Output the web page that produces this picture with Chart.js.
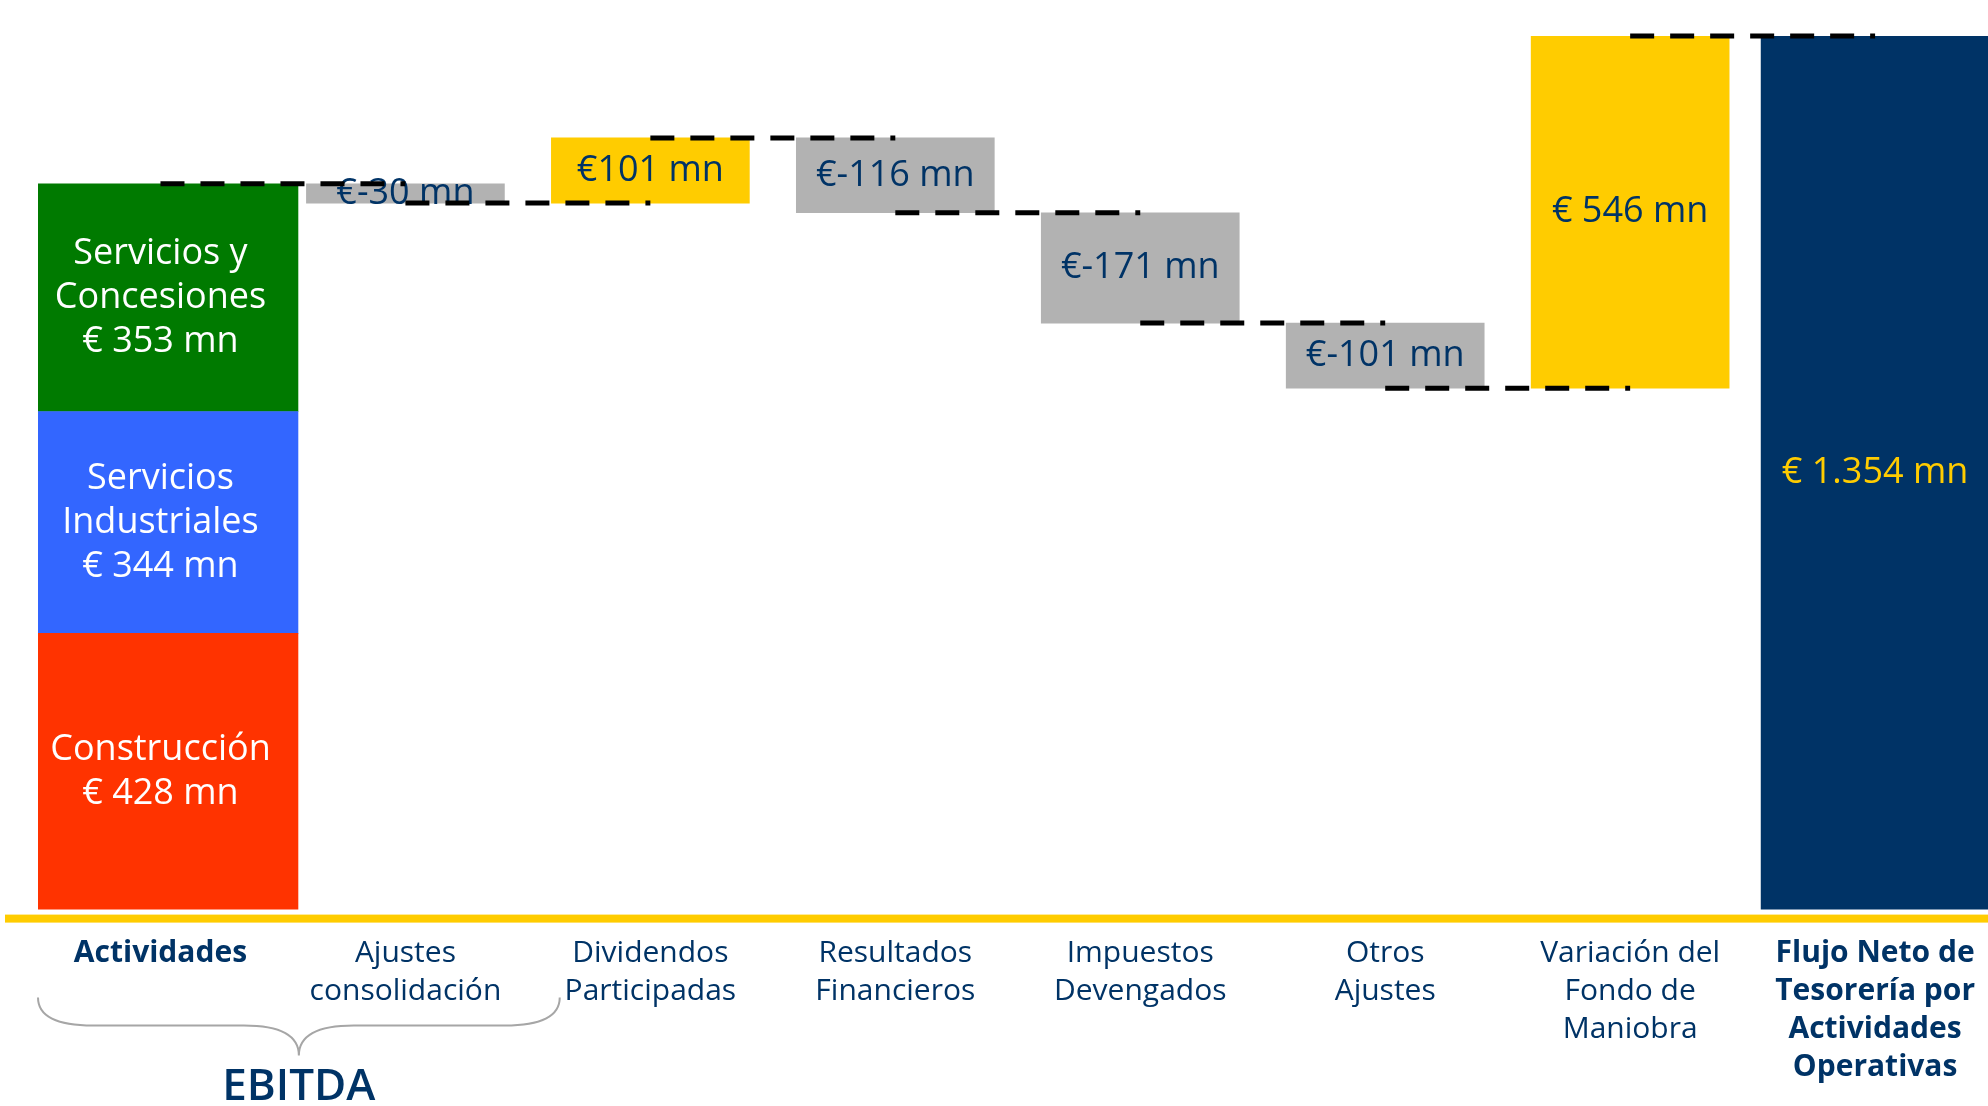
<!DOCTYPE html>
<html lang="es">
<head>
<meta charset="utf-8">
<title>Flujo Neto de Tesorería por Actividades Operativas</title>
<script src="https://cdn.jsdelivr.net/npm/chart.js@4.4.1/dist/chart.umd.min.js"></script>
<style>
    html, body { margin: 0; padding: 0; background: #ffffff; overflow: hidden; }
    #wrap { position: relative; width: 2000px; height: 1106px; }
</style>
</head>
<body>
<div id="wrap"><canvas id="chartFlujo"></canvas></div>
<script>
// Categorías del eje X
const categorias = [
    ["Actividades"],
    ["Ajustes", "consolidación"],
    ["Dividendos", "Participadas"],
    ["Resultados", "Financieros"],
    ["Impuestos", "Devengados"],
    ["Otros", "Ajustes"],
    ["Variación del", "Fondo de", "Maniobra"],
    ["Flujo Neto de", "Tesorería por", "Actividades", "Operativas"]
];

// EBITDA por actividad (de abajo hacia arriba), € mn
const actividadesNombres = [["Construcción"], ["Servicios", "Industriales"], ["Servicios y", "Concesiones"]];
const actividadesValores = [428, 344, 353];
const actividadesEtiquetas = ["€ 428 mn", "€ 344 mn", "€ 353 mn"];

// Ajustes posteriores (categorías 1 a 6), € mn
const ajustesValores = [-30, 101, -116, -171, -101, 546];
const ajustesEtiquetas = ["€-30 mn", "€101 mn", "€-116 mn", "€-171 mn", "€-101 mn", "€ 546 mn"];

// Resultado final, € mn
const flujoNeto = 1354;
const flujoNetoEtiqueta = "€ 1.354 mn";

const COLORES_ACTIVIDADES = ["#FF3300", "#3366FF", "#007A00"];
const GRIS = "#B2B2B2";
const AMARILLO = "#FFCC00";
const AZUL = "#003366";
const FUENTE = "'Open Sans', 'Noto Sans', sans-serif";

let chartFlujo = null;

function initializeChartFlujo() {
    const ctx = document.getElementById("chartFlujo")?.getContext("2d");
    if (!ctx) return;

    if (chartFlujo) {
        chartFlujo.destroy();
        chartFlujo = null;
    }

    const n = categorias.length;
    const vacio = () => new Array(n).fill(null);

    // Barras apiladas de actividades (flotantes, una encima de otra)
    const datasets = [];
    let base = 0;
    actividadesValores.forEach((v, k) => {
        const data = vacio();
        data[0] = [base, base + v];
        base += v;
        datasets.push({
            label: actividadesNombres[k].join(" "),
            data,
            backgroundColor: COLORES_ACTIVIDADES[k],
            barThickness: 275,
            grouped: false,
            etiquetas: [[...actividadesNombres[k], actividadesEtiquetas[k]]],
            colorTexto: "#ffffff",
        });
    });

    // Cascada de ajustes
    const niveles = [base];
    const dataAjustes = vacio();
    const coloresAjustes = vacio();
    let acumulado = base;
    ajustesValores.forEach((v, i) => {
        dataAjustes[i + 1] = [acumulado, acumulado + v];
        coloresAjustes[i + 1] = v < 0 ? GRIS : AMARILLO;
        acumulado += v;
        niveles.push(acumulado);
    });
    datasets.push({
        label: "Ajustes",
        data: dataAjustes,
        backgroundColor: coloresAjustes,
        barThickness: 198,
        grouped: false,
        etiquetas: ajustesEtiquetas.map((t) => [t]),
        colorTexto: AZUL,
    });

    // Total
    const dataTotal = vacio();
    dataTotal[n - 1] = [0, flujoNeto];
    datasets.push({
        label: "Flujo Neto",
        data: dataTotal,
        backgroundColor: AZUL,
        barThickness: 228,
        grouped: false,
        etiquetas: [[flujoNetoEtiqueta]],
        colorTexto: AMARILLO,
    });

    // Plugin: etiquetas dentro de las barras, conectores, eje y llave EBITDA
    const cascadaPlugin = {
        id: "cascada",
        afterDatasetsDraw(chart) {
            const c = chart.ctx;
            const xs = chart.scales.x;
            const ys = chart.scales.y;
            const area = chart.chartArea;

            // Línea amarilla base
            c.save();
            c.fillStyle = AMARILLO;
            c.fillRect(5, area.bottom + 5, chart.width, 8);
            c.restore();

            // Textos de las barras
            c.save();
            c.textAlign = "center";
            c.textBaseline = "middle";
            c.font = `36px ${FUENTE}`;
            chart.data.datasets.forEach((ds, di) => {
                const meta = chart.getDatasetMeta(di);
                let k = 0;
                meta.data.forEach((bar, i) => {
                    if (ds.data[i] == null) return;
                    const lineas = ds.etiquetas[k++] || [];
                    const cy = (bar.y + bar.base) / 2;
                    const alto = 44;
                    c.fillStyle = ds.colorTexto;
                    lineas.forEach((t, j) => {
                        c.fillText(t, bar.x, cy + (j - (lineas.length - 1) / 2) * alto);
                    });
                });
            });
            c.restore();

            // Conectores discontinuos
            c.save();
            c.strokeStyle = "#000000";
            c.lineWidth = 5;
            c.setLineDash([24, 16]);
            for (let i = 0; i < niveles.length; i++) {
                const y = ys.getPixelForValue(niveles[i]);
                c.beginPath();
                c.moveTo(xs.getPixelForValue(i), y);
                c.lineTo(xs.getPixelForValue(i + 1), y);
                c.stroke();
            }
            c.restore();

            // Llave bajo Actividades + Ajustes consolidación
            const paso = xs.getPixelForValue(1) - xs.getPixelForValue(0);
            const izq = xs.getPixelForValue(0) - paso * 0.5;
            const der = xs.getPixelForValue(1) + paso * 0.63;
            const centro = (izq + der) / 2;
            const arriba = area.bottom + 88;
            const medio = area.bottom + 116;
            const punta = area.bottom + 146;
            const r = 55;
            c.save();
            c.strokeStyle = "#A6A6A6";
            c.lineWidth = 2;
            c.beginPath();
            c.moveTo(izq, arriba);
            c.quadraticCurveTo(izq, medio, izq + r, medio);
            c.lineTo(centro - r, medio);
            c.quadraticCurveTo(centro, medio, centro, punta);
            c.quadraticCurveTo(centro, medio, centro + r, medio);
            c.lineTo(der - r, medio);
            c.quadraticCurveTo(der, medio, der, arriba);
            c.stroke();
            c.fillStyle = AZUL;
            c.font = `600 44px ${FUENTE}`;
            c.textAlign = "center";
            c.textBaseline = "middle";
            c.fillText("EBITDA", centro, area.bottom + 178);
            c.restore();
        },
    };

    chartFlujo = new Chart(ctx, {
        type: "bar",
        data: { labels: categorias, datasets },
        options: {
            responsive: true,
            maintainAspectRatio: false,
            animation: false,
            devicePixelRatio: 1,
            layout: { padding: { top: 36, left: 38, right: 0, bottom: -6 } },
            plugins: {
                legend: { display: false },
                tooltip: { enabled: false },
            },
            scales: {
                x: {
                    grid: { display: false, drawTicks: false },
                    border: { display: false },
                    ticks: {
                        padding: 25,
                        color: AZUL,
                        autoSkip: false,
                        maxRotation: 0,
                        font: (c) => ({
                            family: FUENTE,
                            size: 30,
                            lineHeight: 1.27,
                            weight: c.index === 0 || c.index === n - 1 ? "bold" : "normal",
                        }),
                    },
                },
                y: {
                    display: false,
                    min: 0,
                    max: flujoNeto,
                },
            },
        },
        plugins: [cascadaPlugin],
    });
}

document.addEventListener("DOMContentLoaded", initializeChartFlujo);
</script>
</body>
</html>
